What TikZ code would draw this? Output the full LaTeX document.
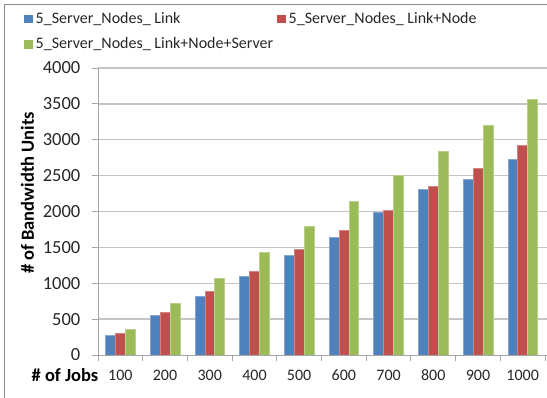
\documentclass[tikz,border=0pt]{standalone}
\usepackage{fontspec}
\setmainfont{Carlito}
\definecolor{serA}{HTML}{4F81BD}
\definecolor{serB}{HTML}{C0504D}
\definecolor{serC}{HTML}{9BBB59}
\definecolor{gridc}{HTML}{C4C4C4}
\definecolor{axisc}{HTML}{A6A6A6}
\definecolor{framec}{HTML}{8C8C8C}
\definecolor{textc}{HTML}{262626}
\tikzset{
  gridline/.style={gridc, line width=1.3pt},
  axisline/.style={axisc, line width=0.9pt},
  bar/.style={line width=0.5pt},
  ticklab/.style={inner sep=0pt, text=textc, font=\fontsize{16}{18}\selectfont},
  yticklab/.style={inner sep=0pt, text=textc, font=\fontsize{18.5}{20}\selectfont, anchor=east},
  axtitle/.style={inner sep=0pt, text=black, font=\bfseries\fontsize{18.5}{20}\selectfont},
  legtext/.style={inner sep=0pt, anchor=west, text=textc, font=\fontsize{16}{18}\selectfont},
  legkey/.style={minimum size=8.5pt, inner sep=0pt, draw=none},
}
\begin{document}
\begin{tikzpicture}[x=1pt, y=-1pt]
\useasboundingbox (0,0) rectangle (547,398);
% chart frame, cut off at right and bottom
\draw[framec, line width=1pt] (4,400) -- (4,5) -- (550,5);

% value-to-height scale: 0 at y=355, 4000 at y=68
\def\yz{355}
\def\ys{0.07175}
\def\xz{98}
\def\cw{44.7}

% horizontal gridlines
\foreach \v in {500,1000,...,4000}
  \draw[gridline] (\xz,{\yz-\v*\ys}) -- (547,{\yz-\v*\ys});

% bars: three series per category
\foreach \a/\b/\c [count=\i from 0] in
  {280/300/360, 550/600/720, 815/885/1075, 1095/1165/1435, 1385/1475/1795,
   1635/1735/2145, 1990/2020/2500, 2305/2355/2845, 2445/2605/3205, 2730/2920/3560}{
  \pgfmathsetmacro{\xl}{\xz+\i*\cw+7.45}
  \filldraw[bar, fill=serA, draw=serA!70!white] (\xl,\yz) rectangle ({\xl+9.93},{\yz-\a*\ys});
  \filldraw[bar, fill=serB, draw=serB!70!white] ({\xl+9.93},\yz) rectangle ({\xl+19.86},{\yz-\b*\ys});
  \filldraw[bar, fill=serC, draw=serC!70!white] ({\xl+19.86},\yz) rectangle ({\xl+29.79},{\yz-\c*\ys});
}

% axes with tick marks
\draw[axisline] (\xz,{\yz-4000*\ys}) -- (\xz,\yz) -- (547,\yz);
\foreach \v in {0,500,...,4000}
  \draw[axisline] (91.5,{\yz-\v*\ys}) -- (\xz,{\yz-\v*\ys});
\foreach \k in {0,...,10}
  \draw[axisline] ({\xz+\k*\cw},\yz) -- ({\xz+\k*\cw},361);

% tick labels
\foreach \v [count=\j] in {0,500,...,4000}
  \node[yticklab] (yl\j) at (80.5,{\yz-\v*\ys}) {\v};
\foreach \k in {0,...,9}{
  \pgfmathtruncatemacro{\lab}{(\k+1)*100}
  \node[ticklab, anchor=base] (xl\k) at ({\xz+(\k+0.5)*\cw},381) {\lab};
}

% axis titles
\node[axtitle, rotate=90] (ytitle) at (27.5,193) {\# of Bandwidth Units};
\node[axtitle, anchor=base east] (xtitle) at (98.5,382) {\# of Jobs};

% legend
\node[legkey, fill=serA] (kA) at (28.5,19) {};
\node[legtext] (tA) at (35.5,19) {5\_Server\_Nodes\_ Link};
\node[legkey, fill=serB] (kB) at (281.5,19) {};
\node[legtext] (tB) at (288.5,19) {5\_Server\_Nodes\_ Link+Node};
\node[legkey, fill=serC] (kC) at (28.5,44.5) {};
\node[legtext] (tC) at (35.5,44.5) {5\_Server\_Nodes\_ Link+Node+Server};
\end{tikzpicture}
\end{document}
